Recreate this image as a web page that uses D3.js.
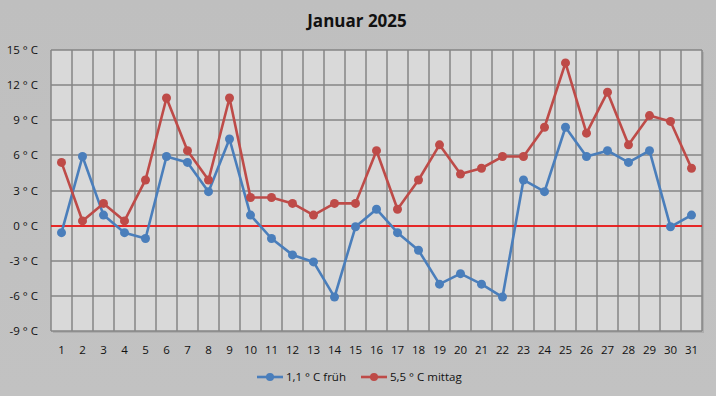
<!DOCTYPE html>
<html lang="de">
<head>
<meta charset="utf-8" />
<title>Januar 2025</title>
<script src="https://cdnjs.cloudflare.com/ajax/libs/d3/7.8.5/d3.min.js"></script>
<style>
    html, body { margin: 0; padding: 0; background: #c0c0c0; }
    svg { display: block; font-family: "Open Sans", "Noto Sans", sans-serif; }
    .tick-label { font-size: 11.5px; fill: #111; }
    .title { font-size: 17px; font-weight: bold; fill: #111; }
    .legend { font-size: 11.5px; fill: #111; }
</style>
</head>
<body>
<div id="chart"></div>
<script>
    // data
    const days = d3.range(1, 32);
    const frueh = [-0.6, 5.9, 0.9, -0.6, -1.1, 5.9, 5.4, 2.9, 7.4, 0.9,
                   -1.1, -2.5, -3.1, -6.1, -0.1, 1.4, -0.6, -2.1, -5.0, -4.1,
                   -5.0, -6.1, 3.9, 2.9, 8.4, 5.9, 6.4, 5.4, 6.4, -0.1, 0.9];
    const mittag = [5.4, 0.4, 1.9, 0.4, 3.9, 10.9, 6.4, 3.9, 10.9, 2.4,
                    2.4, 1.9, 0.9, 1.9, 1.9, 6.4, 1.4, 3.9, 6.9, 4.4,
                    4.9, 5.9, 5.9, 8.4, 13.9, 7.9, 11.4, 6.9, 9.4, 8.9, 4.9];
    const yTicks = [-9, -6, -3, 0, 3, 6, 9, 12, 15];
    const series = [
        { name: "1,1 ° C früh", values: frueh, color: "#4a7ebb" },
        { name: "5,5 ° C mittag", values: mittag, color: "#be4b48" }
    ];

    const width = 716, height = 396;
    const plot = { left: 51, right: 702, top: 50, bottom: 331 };

    const svg = d3.select("#chart").append("svg")
        .attr("width", width)
        .attr("height", height);

    const defs = svg.append("defs");
    const bg = defs.append("linearGradient").attr("id", "bg")
        .attr("x1", 0).attr("y1", 0).attr("x2", 0).attr("y2", 1);
    bg.append("stop").attr("offset", "0%").attr("stop-color", "#bfbfbf");
    bg.append("stop").attr("offset", "100%").attr("stop-color", "#c2c2c2");

    svg.append("rect")
        .attr("width", width).attr("height", height)
        .attr("fill", "url(#bg)");

    const x = d3.scaleBand()
        .domain(days)
        .range([plot.left, plot.right])
        .padding(0);

    const y = d3.scaleLinear()
        .domain([-9, 15])
        .range([plot.bottom, plot.top]);

    const crisp = v => Math.round(v);

    // plot area with a light shadow on the right
    svg.append("rect")
        .attr("x", plot.left + 2).attr("y", plot.top + 2)
        .attr("width", plot.right - plot.left).attr("height", plot.bottom - plot.top)
        .attr("fill", "#adadad");
    svg.append("rect")
        .attr("x", plot.left).attr("y", plot.top)
        .attr("width", plot.right - plot.left).attr("height", plot.bottom - plot.top)
        .attr("fill", "#d9d9d9");

    // grid
    const grid = svg.append("g")
        .attr("stroke", "#848484")
        .attr("stroke-width", 1.5);

    grid.selectAll(".v")
        .data(days.concat([32]))
        .enter().append("line")
        .attr("x1", d => crisp(d <= 31 ? x(d) : plot.right))
        .attr("x2", d => crisp(d <= 31 ? x(d) : plot.right))
        .attr("y1", plot.top)
        .attr("y2", plot.bottom);

    grid.selectAll(".h")
        .data(yTicks)
        .enter().append("line")
        .attr("x1", plot.left)
        .attr("x2", plot.right)
        .attr("y1", d => crisp(y(d)))
        .attr("y2", d => crisp(y(d)));

    // zero line
    svg.append("line")
        .attr("x1", plot.left).attr("x2", plot.right)
        .attr("y1", crisp(y(0))).attr("y2", crisp(y(0)))
        .attr("stroke", "#ff0000")
        .attr("stroke-width", 1.5);

    // y axis labels
    svg.append("g").selectAll("text")
        .data(yTicks)
        .enter().append("text")
        .attr("class", "tick-label")
        .attr("x", 38)
        .attr("y", d => y(d))
        .attr("dy", "0.35em")
        .attr("text-anchor", "end")
        .text(d => d + " ° C");

    // x axis labels
    svg.append("g").selectAll("text")
        .data(days)
        .enter().append("text")
        .attr("class", "tick-label")
        .attr("x", d => x(d) + x.bandwidth() / 2)
        .attr("y", 350)
        .attr("dy", "0.35em")
        .attr("text-anchor", "middle")
        .text(d => d);

    // lines and markers
    const line = d3.line()
        .x((d, i) => x(days[i]) + x.bandwidth() / 2)
        .y(d => y(d));

    series.forEach(s => {
        const g = svg.append("g");
        g.append("path")
            .datum(s.values)
            .attr("d", line)
            .attr("fill", "none")
            .attr("stroke", s.color)
            .attr("stroke-width", 2.6)
            .attr("stroke-linejoin", "round");
        g.selectAll("circle")
            .data(s.values)
            .enter().append("circle")
            .attr("cx", (d, i) => x(days[i]) + x.bandwidth() / 2)
            .attr("cy", d => y(d))
            .attr("r", 4.5)
            .attr("fill", s.color);
    });

    // title
    svg.append("text")
        .attr("class", "title")
        .attr("x", 357)
        .attr("y", 27)
        .attr("text-anchor", "middle")
        .text("Januar 2025");

    // legend
    const legendX = [257, 361];
    const legend = svg.append("g").selectAll("g")
        .data(series)
        .enter().append("g")
        .attr("transform", (d, i) => `translate(${legendX[i]}, 377)`);
    legend.append("line")
        .attr("x1", 0).attr("x2", 26)
        .attr("stroke", d => d.color)
        .attr("stroke-width", 2.6);
    legend.append("circle")
        .attr("cx", 13).attr("r", 4)
        .attr("fill", d => d.color);
    legend.append("text")
        .attr("class", "legend")
        .attr("x", 29)
        .attr("dy", "0.35em")
        .text(d => d.name);
</script>
</body>
</html>
